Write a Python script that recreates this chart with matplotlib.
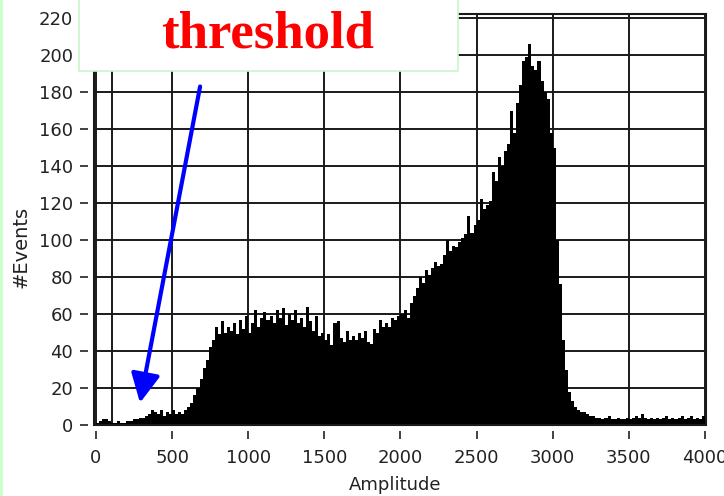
import numpy as np
import matplotlib
matplotlib.use("Agg")
import matplotlib.pyplot as plt
from matplotlib.patches import Rectangle

# --- histogram data (20-wide amplitude bins, 0..4000) ---
BIN_WIDTH = 20
counts = [
    1, 2, 3, 3, 2,          1, 1, 2, 1, 1,           # 0-200
    2, 2, 3, 3, 4,          4, 5, 6, 8, 7,           # 200-400
    6, 8, 5, 7, 6,          8, 6, 7, 6, 8,           # 400-600
    10, 12, 16, 20, 25,     31, 35, 42, 46, 53,      # 600-800
    49, 56, 50, 53, 51,     55, 49, 57, 52, 59,      # 800-1000
    50, 55, 62, 53, 58,     61, 57, 59, 55, 62,      # 1000-1200
    58, 63, 54, 60, 57,     62, 55, 58, 53, 64,      # 1200-1400
    56, 51, 59, 48, 50,     46, 49, 43, 55, 56,      # 1400-1600
    47, 45, 51, 46, 48,     46, 50, 47, 51, 45,      # 1600-1800
    44, 52, 50, 57, 53,     55, 53, 58, 57, 59,      # 1800-2000
    60, 62, 58, 66, 70,     74, 80, 77, 84, 81,      # 2000-2200
    85, 88, 86, 87, 92,     100, 94, 97, 96, 99,     # 2200-2400
    101, 103, 113, 104, 108, 111, 122, 117, 119, 121,  # 2400-2600
    137, 132, 145, 140, 148, 152, 170, 158, 174, 184,  # 2600-2800
    197, 199, 206, 194, 192, 197, 186, 180, 176, 158,  # 2800-3000
    150, 100, 76, 46, 30,   18, 13, 10, 8, 7,        # 3000-3200
    7, 6, 5, 5, 4,          4, 3, 4, 5, 3,           # 3200-3400
    3, 4, 3, 3, 4,          3, 4, 5, 4, 6,           # 3400-3600
    4, 3, 4, 3, 4,          3, 4, 5, 3, 4,           # 3600-3800
    3, 4, 5, 3, 4,          5, 3, 4, 3, 5,           # 3800-4000
]
x_ticks = [0, 500, 1000, 1500, 2000, 2500, 3000, 3500, 4000]
y_ticks = [0, 20, 40, 60, 80, 100, 120, 140, 160, 180, 200, 220]
marker_amp = 105          # extra vertical line near the left edge
arrow_tip = (289, 12)
arrow_tail = (684, 183)

edges = np.arange(len(counts) + 1) * BIN_WIDTH

W, H = 724, 496
fig = plt.figure(figsize=(W / 100, H / 100), dpi=100)
fig.patch.set_facecolor("white")

ax = fig.add_axes([94 / W, 1 - 425 / H, 612 / W, 411 / H])
ax.set_facecolor("white")

ax.stairs(counts, edges, fill=True, color="black", zorder=2)

ax.set_xlim(-13, 4007)
ax.set_ylim(0, 222.2)
ax.set_xticks(x_ticks)
ax.set_yticks(y_ticks)

grid_kw = dict(color="#1a1a1a", linewidth=1.4)
ax.grid(True, **grid_kw)
ax.set_axisbelow(True)
ax.axvline(marker_amp, zorder=0.5, **grid_kw)

# ticks sit a few pixels away from the frame
for side in ("bottom", "left"):
    ax.spines[side].set_position(("outward", 4))
for sp in ax.spines.values():
    sp.set_visible(False)
ax.add_patch(Rectangle((0, 0), 1, 1, transform=ax.transAxes, fill=False,
                       edgecolor="#1a1a1a", linewidth=1.5, zorder=5, clip_on=False))

ax.tick_params(axis="both", direction="out", length=6, width=1.3,
               color="#333333", labelsize=13, labelcolor="#222222")
ax.tick_params(axis="x", pad=7)
ax.tick_params(axis="y", pad=5)

ax.set_xlabel("Amplitude", fontsize=13, color="#222222")
ax.xaxis.set_label_coords(0.492, -0.125)
ax.set_ylabel("#Events", fontsize=14, color="#222222")
ax.yaxis.set_label_coords(-0.104, 0.433)

ax.annotate("", xy=arrow_tip, xytext=arrow_tail, annotation_clip=False,
            arrowprops=dict(arrowstyle="-|>,head_length=0.4,head_width=0.2",
                            color="#0000ff", lw=3, mutation_scale=44,
                            shrinkA=0, shrinkB=0),
            zorder=6)

# label box over the top-left of the plot
fig.patches.append(Rectangle((79 / W, 1 - 71 / H), 379 / W, 80 / H,
                             transform=fig.transFigure, facecolor="white",
                             edgecolor="#ccf5cc", linewidth=1.2, zorder=3))
fig.text(267.5 / W, 1 - 48 / H, "threshold", ha="center", va="baseline",
         family="Liberation Serif", weight="bold", fontsize=38,
         color="#ff0000", zorder=4)

# thin green strip on the left edge
fig.patches.append(Rectangle((0, 0), 3 / W, 1, transform=fig.transFigure,
                             facecolor="#ccffcc", edgecolor="none", zorder=3))

fig.savefig("out.png", dpi=100)
